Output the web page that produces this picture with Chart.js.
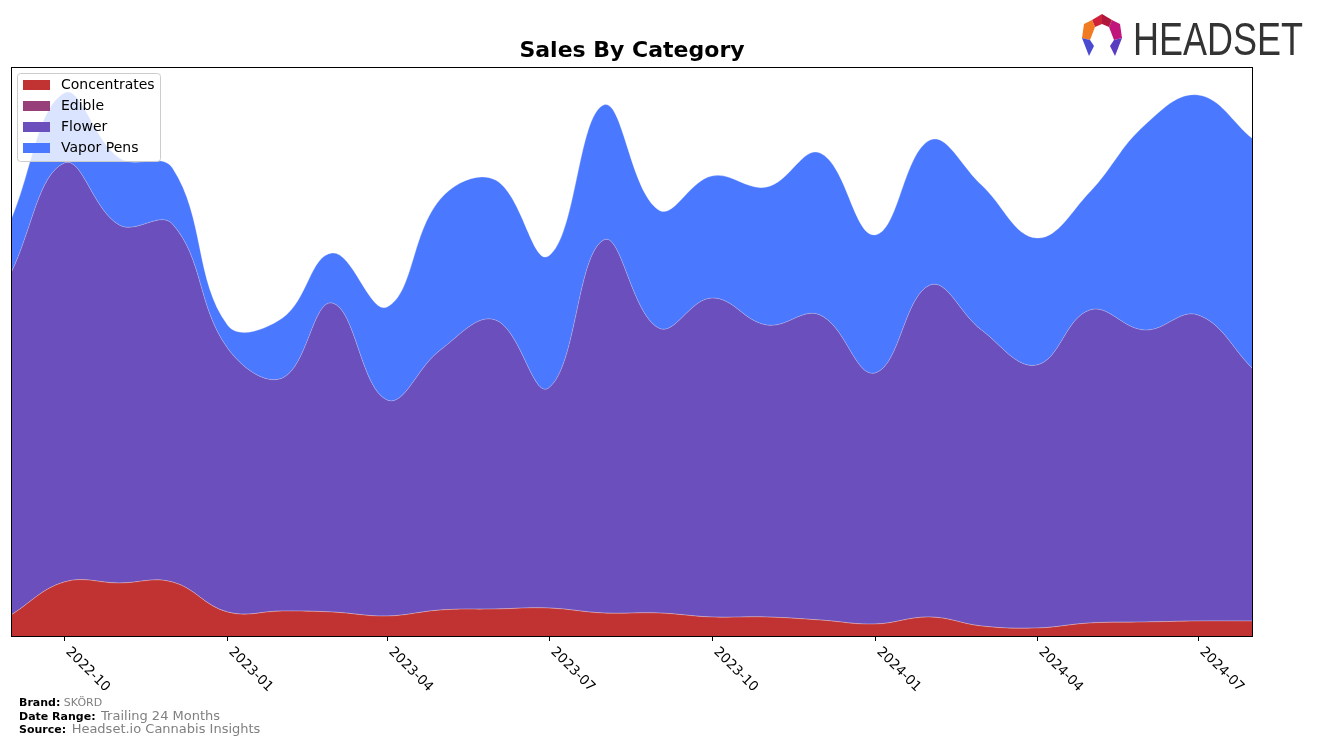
<!DOCTYPE html>
<html>
<head>
<meta charset="utf-8">
<script src="https://cdn.jsdelivr.net/npm/chart.js@4"></script>
<style>
  body { margin: 0; background: #fff; font-family: "DejaVu Sans", sans-serif; }
  #wrap { position: relative; width: 1317px; height: 744px; }
  .foot { position: absolute; left: 19px; font-size: 11px; color: #000; white-space: nowrap; }
  .foot b { font-weight: bold; }
  .foot span { color: #808080; margin-left: 2px; }
  #logo { position: absolute; left: 1078px; top: 12px; }
</style>
</head>
<body>
<div id="wrap">
  <canvas id="salesChart" width="1317" height="744"></canvas>
  <svg id="logo" width="230" height="50" viewBox="0 0 230 50">
    <polygon points="14,8 24,2 24,12 17,15" fill="#d0213b"/>
    <polygon points="24,2 34,8 31,15 24,12" fill="#b0173a"/>
    <polygon points="14,8 17,15 12,28 4,26 6,12" fill="#f07b22"/>
    <polygon points="34,8 42,12 44,26 36,28 31,15" fill="#c0157a"/>
    <polygon points="4,26 12,28 16,34 11,44" fill="#4a4ad0"/>
    <polygon points="44,26 36,28 32,34 37,44" fill="#5a3cc0"/>
    <text x="55" y="43" font-family="'Liberation Sans Narrow', 'Liberation Sans', sans-serif" font-size="46" fill="#333" textLength="170" lengthAdjust="spacingAndGlyphs">HEADSET</text>
  </svg>
  <div class="foot" style="top:696px"><b>Brand:</b> <span style="margin-left:0">SKÖRD</span></div>
  <div class="foot" style="top:708px"><b>Date Range:</b> <span style="font-size:13px">Trailing 24 Months</span></div>
  <div class="foot" style="top:721px"><b>Source:</b> <span style="font-size:13px">Headset.io Cannabis Insights</span></div>
</div>
<script>
const months = ['2022-09','2022-10','2022-11','2022-12','2023-01','2023-02','2023-03','2023-04',
                '2023-05','2023-06','2023-07','2023-08','2023-09','2023-10','2023-11','2023-12',
                '2024-01','2024-02','2024-03','2024-04','2024-05','2024-06','2024-07','2024-08'];
const tickLabels = ['2022-10','2023-01','2023-04','2023-07','2023-10','2024-01','2024-04','2024-07'];

const concentrates = [21,54,53,54,24,25,24,20,26,27,28,23,23,19,19,16,12,19,10,8,13,14,15,15];
const edible       = [0,0,0,0,0,0,0,0,0,0,0,0,0,0,0,0,0,0,0,0,0,0,0,0];
const flower       = [342,419,358,358,264,233,309,216,260,289,220,373,285,319,292,305,251,332,296,263,313,292,306,252];
const vaporPens    = [53,70,67,56,23,60,50,93,151,140,132,135,118,122,138,162,138,145,145,127,118,205,220,230];

const dayOf = (ym) => {
    const [y, m] = ym.split('-').map(Number);
    return (Date.UTC(y, m - 1, 1) - Date.UTC(2022, 8, 1)) / 86400000;
};
const xs = months.map(dayOf);
const pts = (arr) => arr.map((v, i) => ({x: xs[i], y: v}));

const legendItems = [
    ['Concentrates', '#c03332'],
    ['Edible', '#963f78'],
    ['Flower', '#6a4fbd'],
    ['Vapor Pens', '#4a78ff']
];

const framePlugin = {
    id: 'framePlugin',
    afterDraw(chart) {
        const ctx = chart.ctx;
        const a = chart.chartArea;
        const xScale = chart.scales.x;
        ctx.save();
        // title
        ctx.fillStyle = '#000';
        ctx.font = 'bold 22px "DejaVu Sans"';
        ctx.textAlign = 'center';
        ctx.textBaseline = 'middle';
        ctx.fillText('Sales By Category', (a.left + a.right) / 2, 51);

        // frame
        ctx.strokeStyle = '#000';
        ctx.lineWidth = 1;
        ctx.strokeRect(a.left + 0.5, a.top + 0.5, a.right - a.left - 1, a.bottom - a.top);

        // x ticks + rotated labels
        ctx.font = '13.5px "DejaVu Sans"';
        ctx.textAlign = 'left';
        ctx.textBaseline = 'top';
        tickLabels.forEach(t => {
            const px = Math.round(xScale.getPixelForValue(dayOf(t))) + 0.5;
            ctx.beginPath();
            ctx.moveTo(px, a.bottom);
            ctx.lineTo(px, a.bottom + 5);
            ctx.stroke();
            ctx.save();
            ctx.translate(px + 8, a.bottom + 9);
            ctx.rotate(Math.PI / 4);
            ctx.fillStyle = '#000';
            ctx.fillText(t, 0, 0);
            ctx.restore();
        });

        // legend
        const lx = a.left + 6, ly = a.top + 6, lw = 143, lh = 88;
        ctx.beginPath();
        ctx.roundRect(lx + 0.5, ly + 0.5, lw, lh, 3);
        ctx.fillStyle = 'rgba(255,255,255,0.8)';
        ctx.fill();
        ctx.strokeStyle = '#cccccc';
        ctx.stroke();
        ctx.font = '14px "DejaVu Sans"';
        ctx.textBaseline = 'middle';
        legendItems.forEach(([name, color], i) => {
            const cy = ly + 12 + i * 21;
            ctx.fillStyle = color;
            ctx.fillRect(lx + 6, cy - 5, 27, 10);
            ctx.fillStyle = '#000';
            ctx.fillText(name, lx + 44, cy);
        });
        ctx.restore();
    }
};

const makeSet = (label, data, color, fill) => ({
    label: label,
    data: pts(data),
    backgroundColor: color,
    borderColor: 'rgba(255,255,255,0.25)',
    borderWidth: 1,
    fill: fill,
    pointRadius: 0,
    tension: 0.4
});

const ctx = document.getElementById('salesChart').getContext('2d');
const myChart = new Chart(ctx, {
    type: 'line',
    plugins: [framePlugin],
    data: {
        datasets: [
            makeSet('Concentrates', concentrates, '#c03332', 'origin'),
            makeSet('Edible', edible, '#963f78', '-1'),
            makeSet('Flower', flower, '#6a4fbd', '-1'),
            makeSet('Vapor Pens', vaporPens, '#4a78ff', '-1')
        ]
    },
    options: {
        responsive: false,
        animation: false,
        layout: {
            padding: {left: 11, right: 64, top: 67, bottom: 0}
        },
        plugins: {
            legend: {display: false},
            title: {display: false},
            tooltip: {enabled: false}
        },
        scales: {
            x: {
                type: 'linear',
                min: xs[0],
                max: xs[xs.length - 1],
                grid: {display: false},
                border: {display: false},
                ticks: {display: false},
                afterFit(scale) { scale.height = 108; }
            },
            y: {
                display: false,
                stacked: true,
                min: 0,
                max: 569
            }
        }
    }
});
</script>
</body>
</html>
